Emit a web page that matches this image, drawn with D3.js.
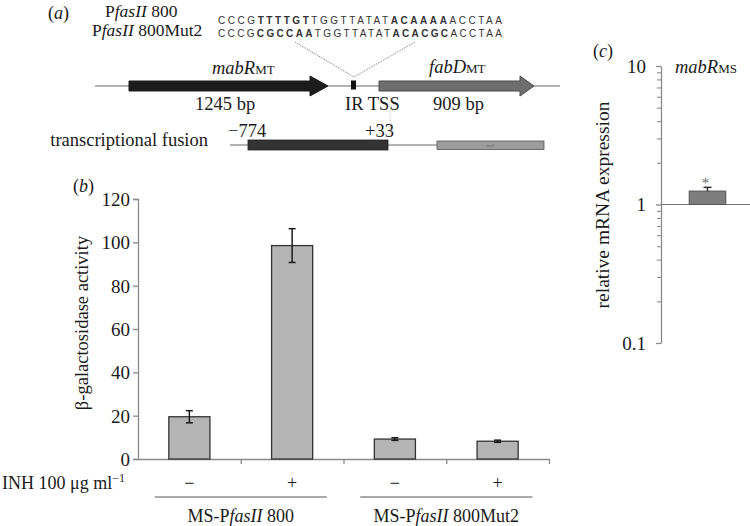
<!DOCTYPE html>
<html><head><meta charset="utf-8">
<script src="https://cdn.jsdelivr.net/npm/d3@7"></script>
<style>
body{margin:0;background:#fff;}
svg{display:block;font-family:"Liberation Serif","Times New Roman",serif;}
</style></head>
<body><svg id="c" width="750" height="526"></svg>
<script>
// ---------- data ----------
const treatments = ["−", "+", "−", "+"];
const constructs = ["MS-PfasII 800", "MS-PfasII 800Mut2"];
const constructOf = [0, 0, 1, 1];
const activity = [19.5, 98.5, 9.2, 8.2];
const activityErr = [2.8, 7.8, 0.6, 0.5];
const activityTicks = [0, 20, 40, 60, 80, 100, 120];
const mrnaGenes = ["mabRMS"];
const mrnaValues = [1.25];
const mrnaErrUp = [0.08];
const mrnaTicks = [0.1, 1, 10];
const mrnaMinorTicks = [0.2,0.3,0.4,0.5,0.6,0.7,0.8,0.9,2,3,4,5,6,7,8,9];
const seqWT = [["CCCG",0],["TTTTGT",1],["TGGTTATAT",0],["ACAAAA",1],["ACCTAA",0]];
const seqMut = [["CCCG",0],["CGCCAA",1],["TGGTTATAT",0],["ACACGC",1],["ACCTAA",0]];

const svg = d3.select("#c");
const axisCol = "#8a8a8a";
const serif = 18.5;

function richText(g, x, y, parts, opts={}) {
  const t = g.append("text").attr("x", x).attr("y", y)
    .attr("font-size", opts.size || serif).attr("fill", opts.fill || "#1a1a1a")
    .attr("text-anchor", opts.anchor || "start");
  parts.forEach(p => {
    const s = t.append("tspan").text(p.t);
    if (p.i) s.attr("font-style", "italic");
    if (p.s) s.attr("font-size", p.s);
    if (p.dy) s.attr("dy", p.dy);
  });
  return t;
}

// ---------- panel (a) ----------
const a = svg.append("g");
richText(a, 48, 19, [{t:"("},{t:"a",i:1},{t:")"}], {size:18});
richText(a, 105, 16.5, [{t:"P"},{t:"fasII",i:1},{t:" 800"}], {size:17.5});
richText(a, 92, 35.5, [{t:"P"},{t:"fasII",i:1},{t:" 800Mut2"}], {size:17.5});
[[seqWT, 23.5],[seqMut, 36.5]].forEach(([seq, y]) => {
  const t = a.append("text").attr("x", 218).attr("y", y)
    .attr("font-family", "'Liberation Sans', Arial, sans-serif")
    .attr("font-size", 10).attr("fill", "#333")
    .attr("textLength", 284).attr("lengthAdjust", "spacing");
  seq.forEach(([s, b]) => t.append("tspan").text(s).attr("font-weight", b ? "bold" : "normal"));
});
// dotted guides
a.append("path").attr("d", "M295,42L354,77L415,42").attr("fill", "none")
  .attr("stroke", "#777").attr("stroke-width", 1).attr("stroke-dasharray", "1,1");
// gene map
const lineY = 86;
a.append("line").attr("x1", 95).attr("x2", 560).attr("y1", lineY).attr("y2", lineY)
  .attr("stroke", "#666").attr("stroke-width", 1);
function arrow(x0, xh, xt, fill, stroke) {
  const bw = 5, hw = 10;
  a.append("path")
    .attr("d", `M${x0},${lineY-bw}L${xh},${lineY-bw}L${xh},${lineY-hw}L${xt},${lineY}L${xh},${lineY+hw}L${xh},${lineY+bw}L${x0},${lineY+bw}Z`)
    .attr("fill", fill).attr("stroke", stroke).attr("stroke-width", 1);
}
arrow(129, 310, 328, "#1c1c1c", "#1c1c1c");
arrow(379, 520, 534, "#6e6e6e", "#4a4a4a");
a.append("rect").attr("x", 351).attr("y", 80.5).attr("width", 5).attr("height", 9).attr("fill", "#111");
a.append("line").attr("x1", 390).attr("x2", 390).attr("y1", 96).attr("y2", 138)
  .attr("stroke", "#ccc").attr("stroke-dasharray", "1,1");
richText(a, 212, 74, [{t:"mabR",i:1},{t:"MT",s:13}]);
richText(a, 429, 73, [{t:"fabD",i:1},{t:"MT",s:13}]);
richText(a, 195, 110, [{t:"1245 bp"}]);
richText(a, 345, 110, [{t:"IR TSS"}]);
richText(a, 433, 110, [{t:"909 bp"}]);
// transcriptional fusion
richText(a, 208, 146, [{t:"transcriptional fusion"}], {anchor:"end"});
richText(a, 228, 137, [{t:"−774"}]);
richText(a, 365, 137, [{t:"+33"}]);
a.append("line").attr("x1", 230).attr("x2", 437).attr("y1", 145).attr("y2", 145)
  .attr("stroke", "#666").attr("stroke-width", 1);
a.append("rect").attr("x", 248).attr("y", 140).attr("width", 140).attr("height", 10)
  .attr("fill", "#333").attr("stroke", "#222").attr("stroke-width", 0.8);
a.append("rect").attr("x", 437).attr("y", 141).attr("width", 107).attr("height", 8.5)
  .attr("fill", "#9c9c9c").attr("stroke", "#555").attr("stroke-width", 0.8);
a.append("text").attr("x", 490).attr("y", 147).attr("font-size", 4.5).attr("font-style", "italic")
  .attr("text-anchor", "middle").attr("fill", "#666").text("lacZ");

// ---------- panel (b) ----------
const b = svg.append("g");
const yB = d3.scaleLinear().domain([0, 120]).range([459, 199]);
const xB = d3.scaleBand().domain(d3.range(activity.length)).range([138, 549])
  .paddingInner(0.6).paddingOuter(0.3);
const xEdge = d3.scaleLinear().domain([0, activity.length]).range([138, 549]);

richText(b, 73, 192, [{t:"("},{t:"b",i:1},{t:")"}], {size:18});
const yAx = b.append("g").attr("transform", "translate(138,0)")
  .call(d3.axisLeft(yB).tickValues(activityTicks).tickSize(5).tickPadding(3).tickFormat(d3.format("d")));
yAx.selectAll("path,line").attr("stroke", axisCol).attr("stroke-width", 1.3);
yAx.selectAll("text").attr("font-family", "Liberation Serif").attr("font-size", 19).attr("fill", "#1a1a1a").attr("dy", "0.34em");
const xAx = b.append("g").attr("transform", `translate(0,${yB(0)})`)
  .call(d3.axisBottom(xEdge).tickValues(d3.range(1, activity.length + 1)).tickSize(5).tickSizeOuter(0).tickFormat(""));
xAx.selectAll("path,line").attr("stroke", axisCol).attr("stroke-width", 1.3);

b.selectAll("rect.bar").data(activity).join("rect").attr("class", "bar")
  .attr("x", (d, i) => xB(i)).attr("width", xB.bandwidth())
  .attr("y", d => yB(d)).attr("height", d => yB(0) - yB(d))
  .attr("fill", "#b4b4b4").attr("stroke", "#333").attr("stroke-width", 1.3);
const eb = b.selectAll("g.err").data(activity).join("g").attr("class", "err")
  .attr("stroke", "#1a1a1a").attr("stroke-width", 1.5);
eb.append("line").attr("x1", (d, i) => xB(i) + xB.bandwidth()/2).attr("x2", (d, i) => xB(i) + xB.bandwidth()/2)
  .attr("y1", (d, i) => yB(d + activityErr[i])).attr("y2", (d, i) => yB(d - activityErr[i]));
[1, -1].forEach(sg => eb.append("line")
  .attr("x1", (d, i) => xB(i) + xB.bandwidth()/2 - 3.5).attr("x2", (d, i) => xB(i) + xB.bandwidth()/2 + 3.5)
  .attr("y1", (d, i) => yB(d + sg*activityErr[i])).attr("y2", (d, i) => yB(d + sg*activityErr[i])));

b.append("text").attr("transform", `translate(88,${(yB(0)+yB(120))/2 - 6}) rotate(-90)`)
  .attr("text-anchor", "middle").attr("font-size", 18.5).attr("fill", "#1a1a1a").text("β-galactosidase activity");

// treatment row
richText(b, 2, 489, [{t:"INH 100 μg ml"},{t:"−1",s:12,dy:-7}], {size:18});
b.selectAll("text.tr").data(treatments).join("text").attr("class", "tr")
  .attr("x", (d, i) => xB(i) + xB.bandwidth()/2).attr("y", 489)
  .attr("text-anchor", "middle").attr("font-size", 18).attr("fill", "#1a1a1a").text(d => d);
constructs.forEach((c, gi) => {
  const idx = constructOf.map((g, i) => g === gi ? i : -1).filter(i => i >= 0);
  const cx = d3.mean(idx, i => xB(i) + xB.bandwidth()/2);
  b.append("line").attr("x1", cx - 86).attr("x2", cx + 86).attr("y1", 497).attr("y2", 497)
    .attr("stroke", "#555").attr("stroke-width", 1.2);
  const m = c.match(/^(MS-P)(fasII)(.*)$/);
  richText(b, cx, 522, [{t:m[1]},{t:m[2],i:1},{t:m[3]}], {anchor:"middle", size:18});
});

// ---------- panel (c) ----------
const cG = svg.append("g");
const yC = d3.scaleLog().domain([0.1, 10]).range([343, 66]);
const xC = d3.scaleBand().domain(mrnaGenes).range([661, 754]).paddingOuter(0.77).paddingInner(0);
richText(cG, 593, 57, [{t:"("},{t:"c",i:1},{t:")"}], {size:18});
const cAx = cG.append("g").attr("transform", "translate(661,0)")
  .call(d3.axisLeft(yC).tickValues(mrnaTicks).tickSize(5).tickSizeOuter(0).tickPadding(10).tickFormat(d => String(d)));
cAx.selectAll("path,line").attr("stroke", axisCol).attr("stroke-width", 1.3);
cAx.selectAll("text").attr("font-family", "Liberation Serif").attr("font-size", 19).attr("fill", "#1a1a1a").attr("dy", "0.34em");
const cMin = cG.append("g").attr("transform", "translate(661,0)")
  .call(d3.axisLeft(yC).tickValues(mrnaMinorTicks).tickSize(4).tickFormat(""));
cMin.select("path").remove();
cMin.selectAll("line").attr("stroke", axisCol).attr("stroke-width", 1.1);
// baseline at 1
cG.append("line").attr("x1", 661).attr("x2", 750).attr("y1", yC(1)).attr("y2", yC(1))
  .attr("stroke", "#777").attr("stroke-width", 1.2);
cG.selectAll("rect.mbar").data(mrnaValues).join("rect").attr("class", "mbar")
  .attr("x", (d, i) => xC(mrnaGenes[i])).attr("width", xC.bandwidth())
  .attr("y", d => yC(d)).attr("height", d => yC(1) - yC(d))
  .attr("fill", "#7d7d7d").attr("stroke", "#555").attr("stroke-width", 1);
mrnaValues.forEach((d, i) => {
  const cx = xC(mrnaGenes[i]) + xC.bandwidth()/2;
  cG.append("line").attr("x1", cx).attr("x2", cx).attr("y1", yC(d)).attr("y2", yC(d + mrnaErrUp[i]))
    .attr("stroke", "#333").attr("stroke-width", 1.5);
  cG.append("line").attr("x1", cx - 4).attr("x2", cx + 4).attr("y1", yC(d + mrnaErrUp[i])).attr("y2", yC(d + mrnaErrUp[i]))
    .attr("stroke", "#333").attr("stroke-width", 1.5);
  cG.append("text").attr("x", cx - 2).attr("y", yC(d + mrnaErrUp[i]) + 1).attr("text-anchor", "middle")
    .attr("font-size", 15).attr("fill", "#666").text("*");
});
richText(cG, 675, 73, [{t:"mabR",i:1},{t:"MS",s:13}]);
cG.append("text").attr("transform", "translate(609,205) rotate(-90)")
  .attr("text-anchor", "middle").attr("font-size", 19.5).attr("fill", "#1a1a1a").text("relative mRNA expression");
</script></body></html>
